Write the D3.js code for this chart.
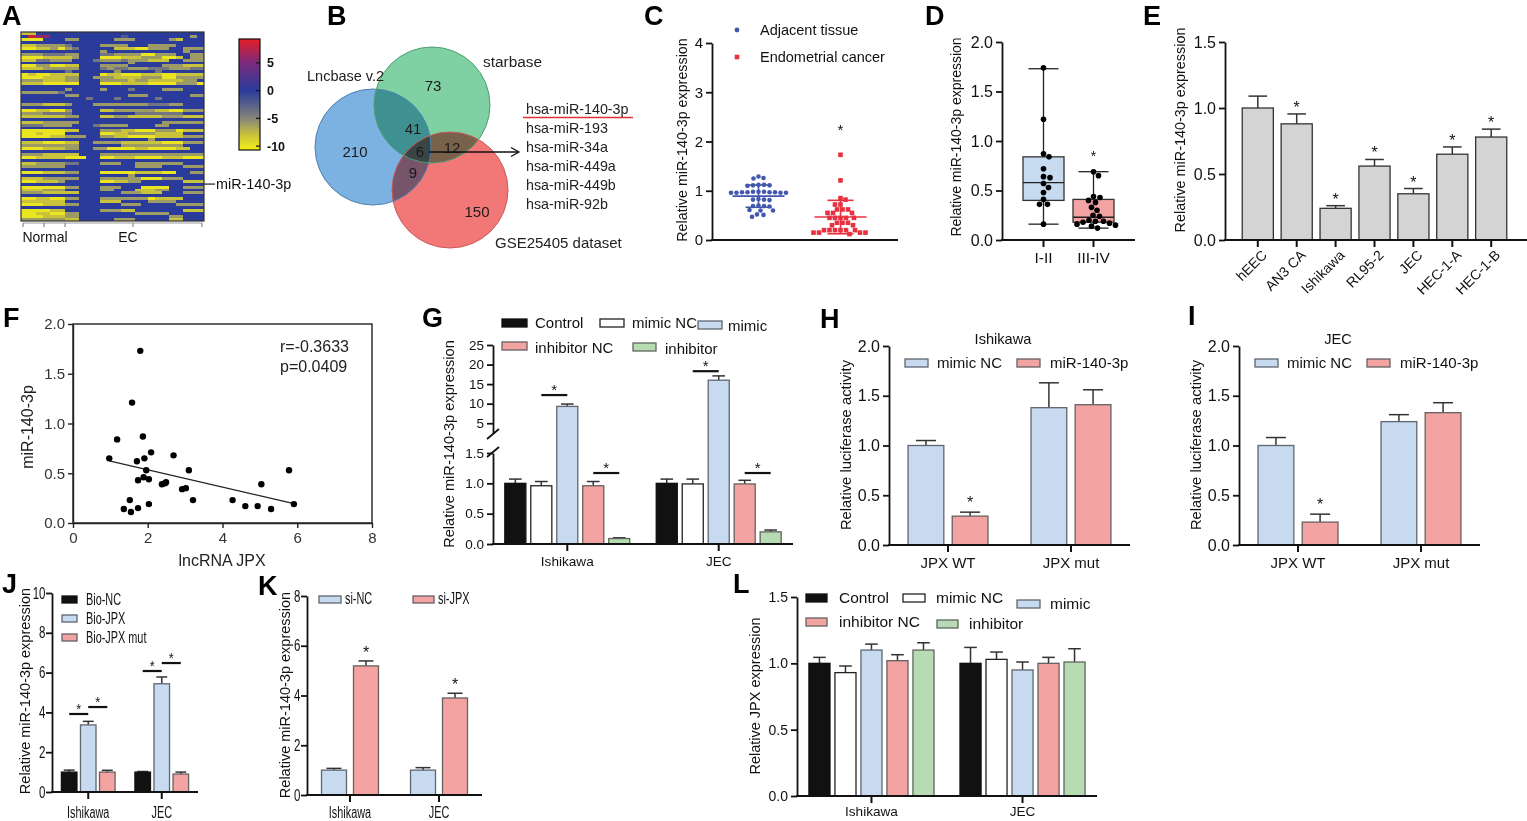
<!DOCTYPE html>
<html>
<head>
<meta charset="utf-8">
<script src="https://cdn.jsdelivr.net/npm/d3@7"></script>
<style>
  body { margin: 0; background: #fff; }
  svg { display: block; font-family: "Liberation Sans", Arial, Helvetica, sans-serif; }
</style>
</head>
<body>
<svg id="fig" width="1527" height="821"></svg>
<script>
//Datos A: heatmap, cada caracter es un nivel 0..9 -> valor -10 + 2*nivel
var heatNormal = [
  "115555","598855","000555","555555","112222","001120","555555","222333","000111","113322",
  "555555","002200","111222","555555","010011","000111","222111","111000","555555","555555",
  "222223","555555","555555","555555","222111","555555","001100","222333","111111","555555",
  "111222","333222","555555","000000","001000","000011","555555","111000","222222","000111",
  "555555","222111","001111","555555","112222","222222","555555","000111","555555","111222",
  "001112","555555","000000","111222","222111","555555","001100","111111","000111","555555",
  "000011","001100","000111","222222"];
var heatEC = [
  "55555555555555555555","55555555455555555525","22555552225555521555","55555555555555555555",
  "35555222255522225555","23555551110022255222","55555255555555555255","22555332222002225522",
  "12555000111222001522","25553222322211155222","55555555525555555555","11555222255555222111",
  "22555323322233322233","35555552555553555555","11555011000111001111","22552221111222002222",
  "22555222212211111225","00555000111100002220","55555555555555555555","25555255535555222555",
  "55555555555555555555","22555555522255555522","55535553555553555555","55555555555555555555",
  "25552222222233322555","55555555555555555555","25555112222221100222","35555555553333333555",
  "22555112211111222111","55555555555555555555","22555555555555222222","25553222255552255555",
  "55555555555555555555","11555222110002220111","55555001122221111555","22255221100001111222",
  "55555555555525555555","11552222111111000222","22555555222222222555","22552200001100001155",
  "55555555555555555555","11555222222222222222","00055001110000111000","55555555555555555555",
  "33555222552222222555","55555555552222555222","55555555555555555555","22555000001111005522",
  "55555555525555555555","22555222222000222555","55555001122555555111","55555555555555555555",
  "22555222555000055222","55555225551112255555","11555555222111555222","55555555555555555555",
  "22555222222201111555","55555111555522225555","22555555222555552222","55555555555555555555",
  "55555222115555555111","22555555552222255555","22555555555555522555","11555552225555511555"];
var heatMarkRow = 51;
var heatMarkLabel = "miR-140-3p";
var heatGroups = ["Normal", "EC"];
var cbTicks = [5, 0, -5, -10];
var cbDomain = [-10.7, 9.3];

//Datos B: Venn
var vennSets = ["Lncbase v.2", "starbase", "GSE25405 dataset"];
var vennRegions = ["L", "S", "G", "LS", "LG", "SG", "LSG"];
var vennCounts = [210, 73, 150, 41, 9, 12, 6];
var vennGenes = ["hsa-miR-140-3p", "hsa-miR-193", "hsa-miR-34a", "hsa-miR-449a", "hsa-miR-449b", "hsa-miR-92b"];

//Datos C
var tissueGroups = ["Adjacent tissue", "Endometrial cancer"];
var adjacentVals = [1.29, 1.25, 1.26, 1.12, 1.11, 1.11, 1.10, 1.12, 0.97, 0.96, 0.98, 0.97, 0.96, 0.98, 0.97, 0.96,
  0.97, 0.98, 0.96, 0.82, 0.81, 0.83, 0.82, 0.69, 0.70, 0.68, 0.69, 0.60, 0.61, 0.60, 0.51, 0.52, 0.47];
var cancerVals = [1.73, 1.21, 0.85, 0.82, 0.72, 0.72, 0.62, 0.62, 0.62, 0.55, 0.55, 0.55, 0.45, 0.45, 0.45, 0.45, 0.45,
  0.35, 0.35, 0.35, 0.30, 0.30, 0.20, 0.20, 0.20, 0.20, 0.20, 0.20, 0.15, 0.15, 0.15, 0.15, 0.12];

//Datos D
var stageGroups = ["I-II", "III-IV"];
var stageI_II = [1.74, 1.22, 0.87, 0.84, 0.72, 0.64, 0.63, 0.57, 0.53, 0.48, 0.41, 0.36, 0.36, 0.16];
var stageIII_IV = [0.69, 0.65, 0.44, 0.43, 0.40, 0.38, 0.33, 0.30, 0.25, 0.24, 0.20, 0.19, 0.19, 0.18, 0.17, 0.16, 0.15, 0.14, 0.12];
var boxMin = [0.16, 0.12];
var boxQ1 = [0.40, 0.18];
var boxMed = [0.58, 0.23];
var boxQ3 = [0.84, 0.41];
var boxMax = [1.73, 0.69];

//Datos E
var cellLines = ["hEEC", "AN3 CA", "Ishikawa", "RL95-2", "JEC", "HEC-1-A", "HEC-1-B"];
var cellMeans = [1.0, 0.88, 0.24, 0.56, 0.35, 0.65, 0.78];
var cellErr = [0.09, 0.075, 0.02, 0.05, 0.04, 0.055, 0.06];
var cellStar = [0, 1, 1, 1, 1, 1, 1];

//Datos F
var jpxExpr = [1.80, 1.58, 1.18, 1.87, 0.97, 1.71, 1.91, 2.09, 2.69, 1.96, 1.89, 1.74, 2.03, 3.10, 2.46, 2.49,
  2.38, 2.92, 3.02, 1.52, 1.36, 1.55, 1.74, 2.03, 3.21, 4.27, 4.61, 4.94, 5.04, 5.30, 5.78, 5.91];
var mirExpr = [1.73, 1.21, 0.84, 0.87, 0.65, 0.62, 0.65, 0.71, 0.68, 0.53, 0.46, 0.43, 0.44, 0.53, 0.40, 0.41,
  0.39, 0.34, 0.35, 0.23, 0.14, 0.11, 0.15, 0.19, 0.23, 0.23, 0.17, 0.17, 0.39, 0.14, 0.53, 0.19];
var corrText = ["r=-0.3633", "p=0.0409"];

//Datos G
var cellPair = ["Ishikawa", "JEC"];
var treatSeries = ["Control", "mimic NC", "mimic", "inhibitor NC", "inhibitor"];
var gMeans = [[1.0, 0.96, 9.3, 0.96, 0.09], [1.0, 0.99, 16.0, 0.99, 0.20]];
var gErr = [[0.07, 0.07, 0.6, 0.07, 0.012], [0.07, 0.08, 1.1, 0.06, 0.03]];
var gSig = [["Ishikawa", "mimic NC", "mimic", 12.2], ["Ishikawa", "inhibitor NC", "inhibitor", 1.17],
            ["JEC", "mimic NC", "mimic", 18.3], ["JEC", "inhibitor NC", "inhibitor", 1.17]];

//Datos H / I
var lucGroups = ["JPX WT", "JPX mut"];
var lucSeries = ["mimic NC", "miR-140-3p"];
var hMeans = [[1.0, 0.29], [1.38, 1.41]];
var hErr = [[0.05, 0.04], [0.25, 0.15]];
var hStar = [[0, 1], [0, 0]];
var iMeans = [[1.0, 0.23], [1.24, 1.33]];
var iErr = [[0.08, 0.08], [0.07, 0.10]];

//Datos J
var bioSeries = ["Bio-NC", "Bio-JPX", "Bio-JPX mut"];
var jMeans = [[1.0, 3.37, 1.0], [1.0, 5.44, 0.9]];
var jErr = [[0.1, 0.18, 0.09], [0.03, 0.34, 0.1]];
var jSig = [["Ishikawa", "Bio-NC", "Bio-JPX", 3.92], ["Ishikawa", "Bio-JPX", "Bio-JPX mut", 4.27],
            ["JEC", "Bio-NC", "Bio-JPX", 6.08], ["JEC", "Bio-JPX", "Bio-JPX mut", 6.48]];

//Datos K
var siSeries = ["si-NC", "si-JPX"];
var kMeans = [[1.0, 5.19], [1.0, 3.9]];
var kErr = [[0.07, 0.2], [0.1, 0.19]];
var kStar = [[0, 1], [0, 1]];

//Datos L
var lMeans = [[1.0, 0.93, 1.10, 1.02, 1.10], [1.0, 1.03, 0.95, 1.0, 1.01]];
var lErr = [[0.045, 0.05, 0.045, 0.045, 0.055], [0.12, 0.055, 0.06, 0.045, 0.1]];

//Estilos
var FONT = "'Liberation Sans', Arial, Helvetica, sans-serif";
var fillsT = ["#111111", "#ffffff", "#c7daf0", "#f4a3a3", "#b7dcb3"];
var strokesT = ["#111111", "#222222", "#5f6670", "#666060", "#5f665f"];
var NARROW = 0.68;

var svg = d3.select("#fig");
svg.append("rect").attr("width", 1527).attr("height", 821).attr("fill", "#fff");

var txt = function(x, y, s, fs, o) {
    o = o || {};
    var tr = "translate(" + x + "," + y + ")";
    if (o.rot) tr += " rotate(" + o.rot + ")";
    if (o.sx) tr += " scale(" + o.sx + ",1)";
    return svg.append("text")
        .attr("transform", tr)
        .attr("font-family", FONT)
        .attr("font-size", fs)
        .attr("font-weight", o.bold ? "bold" : null)
        .attr("text-anchor", o.anchor || "start")
        .attr("fill", o.fill || "#111")
        .text(s);
};

var leftAxis = function(x, y, ticks, fmt, fs, sx, sw) {
    var a = svg.append("g")
        .attr("transform", "translate(" + x + ",0)")
        .call(d3.axisLeft(y).tickValues(ticks).tickFormat(fmt).tickSize(6).tickSizeOuter(0).tickPadding(3));
    a.select(".domain").attr("stroke", "#111").attr("stroke-width", sw || 1.8);
    a.selectAll(".tick line").attr("stroke", "#111").attr("stroke-width", sw || 1.8);
    a.selectAll(".tick text").attr("font-family", FONT).attr("font-size", fs).attr("fill", "#111");
    if (sx) a.selectAll(".tick text").attr("transform", "scale(" + sx + ",1)");
    return a;
};

var baseLine = function(x1, x2, y) {
    svg.append("line").attr("x1", x1 - 0.9).attr("x2", x2).attr("y1", y).attr("y2", y)
        .attr("stroke", "#111").attr("stroke-width", 1.8);
};

var catAxis = function(xs, labels, y, ly, fs, sx) {
    xs.forEach(function(x, i) {
        svg.append("line").attr("x1", x).attr("x2", x).attr("y1", y).attr("y2", y + 7)
            .attr("stroke", "#111").attr("stroke-width", 2);
        if (labels) txt(x, ly, labels[i], fs, {anchor: "middle", sx: sx});
    });
};

var yTitle = function(x, y, s, fs) {
    txt(x, y, s, fs, {rot: -90, anchor: "middle"});
};

var swatch = function(x, y, w, h, fill, stroke, label, tx, ty, fs, sx) {
    svg.append("rect").attr("x", x).attr("y", y).attr("width", w).attr("height", h)
        .attr("fill", fill).attr("stroke", stroke).attr("stroke-width", 1.3);
    txt(tx, ty, label, fs, {sx: sx});
};

//Barras agrupadas con error (solo hacia arriba)
var barPanel = function(cfg) {
    var x0 = d3.scaleBand().domain(cfg.groups).range(cfg.range)
        .paddingInner(cfg.pIn).paddingOuter(cfg.pOut);
    var x1 = d3.scaleBand().domain(cfg.series).range([0, x0.bandwidth()]).paddingInner(cfg.sIn);
    var y = cfg.y;
    var cells = [];
    cfg.groups.forEach(function(g, gi) {
        cfg.series.forEach(function(s, si) {
            cells.push({g: g, s: s, si: si, v: cfg.means[gi][si], e: cfg.errs[gi][si],
                        star: cfg.stars ? cfg.stars[gi][si] : 0});
        });
    });
    var cx = function(d) { return x0(d.g) + x1(d.s) + x1.bandwidth() / 2; };
    var cw = x1.bandwidth() * (cfg.cap || 0.28);
    var gb = svg.append("g");
    gb.selectAll("line.err").data(cells).enter().append("line")
        .attr("x1", cx).attr("x2", cx)
        .attr("y1", function(d) { return y(d.v); })
        .attr("y2", function(d) { return y(d.v + d.e); })
        .attr("stroke", "#333").attr("stroke-width", 1.5);
    gb.selectAll("line.cap").data(cells).enter().append("line")
        .attr("x1", function(d) { return cx(d) - cw; })
        .attr("x2", function(d) { return cx(d) + cw; })
        .attr("y1", function(d) { return y(d.v + d.e); })
        .attr("y2", function(d) { return y(d.v + d.e); })
        .attr("stroke", "#333").attr("stroke-width", 1.5);
    gb.selectAll("rect").data(cells).enter().append("rect")
        .attr("x", function(d) { return x0(d.g) + x1(d.s); })
        .attr("y", function(d) { return y(d.v); })
        .attr("width", x1.bandwidth())
        .attr("height", function(d) { return y(0) - y(d.v); })
        .attr("fill", function(d) { return cfg.fills[d.si]; })
        .attr("stroke", function(d) { return cfg.strokes[d.si]; })
        .attr("stroke-width", 1.3);
    cells.filter(function(d) { return d.star; }).forEach(function(d) {
        txt(cx(d), y(d.v + d.e) - (cfg.starGap || 1), "*", 16, {anchor: "middle"});
    });
    return {
        x0: x0,
        cx: function(g, s) { return x0(g) + x1(s) + x1.bandwidth() / 2; },
        gx: function(g) { return x0(g) + x0.bandwidth() / 2; }
    };
};

var sigLines = function(p, sig, y, sx) {
    sig.forEach(function(s) {
        var a = p.cx(s[0], s[1]), b = p.cx(s[0], s[2]), yy = y(s[3]);
        svg.append("line").attr("x1", a).attr("x2", b).attr("y1", yy).attr("y2", yy)
            .attr("stroke", "#111").attr("stroke-width", 2.2);
        txt((a + b) / 2, yy, "*", 15, {anchor: "middle", sx: sx});
    });
};

//Swarm simple para puntos
var swarm = function(vals, y, minD) {
    var order = vals.map(function(v, i) { return i; }).sort(function(a, b) { return vals[b] - vals[a]; });
    var placed = [], offs = [];
    order.forEach(function(i) {
        var py = y(vals[i]);
        for (var k = 0; k < 400; k++) {
            var dx = (k % 2 ? 1 : -1) * Math.ceil(k / 2) * 0.5;
            var ok = placed.every(function(p) {
                return (p[0] - dx) * (p[0] - dx) + (p[1] - py) * (p[1] - py) >= minD * minD;
            });
            if (ok) { placed.push([dx, py]); offs[i] = dx; break; }
        }
    });
    return offs;
};

// ---------- Panel letters ----------
var letters = [["A", 2, 25], ["B", 327, 25], ["C", 644, 25], ["D", 925, 25], ["E", 1143, 25],
               ["F", 3, 327], ["G", 422, 327], ["H", 820, 328], ["I", 1188, 325],
               ["J", 2, 593], ["K", 258, 595], ["L", 733, 593]];
letters.forEach(function(l) { txt(l[1], l[2], l[0], 27, {bold: true, fill: "#000"}); });

// ---------- A heatmap ----------
var heatY = d3.scaleBand().domain(d3.range(heatNormal.length)).range([32, 221]);
var heatXn = d3.scaleBand().domain(d3.range(heatNormal[0].length)).range([21, 65]);
var heatXe = d3.scaleBand().domain(d3.range(heatEC[0].length)).range([65, 204]);
var heatColor = d3.scaleLinear().domain([-10.7, -8, -5, 0, 5, 9.3])
    .range(["#f6ef18", "#c9c33c", "#85857a", "#2a3b9b", "#7a2b7c", "#e81e26"]);
var drawHeat = function(rows, xs) {
    var cells = [];
    rows.forEach(function(r, i) {
        r.split("").forEach(function(c, j) { cells.push({i: i, j: j, v: -10 + 2 * (+c)}); });
    });
    svg.append("g").attr("shape-rendering", "crispEdges")
        .selectAll("rect").data(cells).enter().append("rect")
        .attr("x", function(d) { return xs(d.j); })
        .attr("y", function(d) { return heatY(d.i); })
        .attr("width", xs.bandwidth() + 0.4)
        .attr("height", heatY.bandwidth() + 0.4)
        .attr("fill", function(d) { return heatColor(d.v); });
};
drawHeat(heatNormal, heatXn);
drawHeat(heatEC, heatXe);
svg.append("rect").attr("x", 21).attr("y", 32).attr("width", 183).attr("height", 189)
    .attr("fill", "none").attr("stroke", "#333").attr("stroke-width", 1.2);
// bracket under heatmap
svg.append("line").attr("x1", 23).attr("x2", 202).attr("y1", 223).attr("y2", 223)
    .attr("stroke", "#999").attr("stroke-width", 1.2);
[23, 44, 65, 133, 202].forEach(function(x) {
    svg.append("line").attr("x1", x).attr("x2", x).attr("y1", 223).attr("y2", 227)
        .attr("stroke", "#888").attr("stroke-width", 1.2);
});
txt(45, 242, heatGroups[0], 14, {anchor: "middle"});
txt(128, 242, heatGroups[1], 14, {anchor: "middle"});
var markY = heatY(heatMarkRow) + heatY.bandwidth() / 2;
svg.append("line").attr("x1", 204).attr("x2", 215).attr("y1", markY).attr("y2", markY)
    .attr("stroke", "#222").attr("stroke-width", 1.2);
txt(216, markY + 5, heatMarkLabel, 14.4);
// colorbar
var cbY = d3.scaleLinear().domain(cbDomain).range([150, 39]);
var grad = svg.append("defs").append("linearGradient").attr("id", "cbgrad")
    .attr("x1", 0).attr("y1", 1).attr("x2", 0).attr("y2", 0);
heatColor.domain().forEach(function(v, i) {
    grad.append("stop").attr("offset", (v - cbDomain[0]) / (cbDomain[1] - cbDomain[0]))
        .attr("stop-color", heatColor.range()[i]);
});
svg.append("rect").attr("x", 239).attr("y", 39).attr("width", 21).attr("height", 111)
    .attr("fill", "url(#cbgrad)").attr("stroke", "#111").attr("stroke-width", 1.2);
cbTicks.forEach(function(t) {
    svg.append("line").attr("x1", 256).attr("x2", 260).attr("y1", cbY(t)).attr("y2", cbY(t))
        .attr("stroke", "#111").attr("stroke-width", 1.2);
    txt(267, cbY(t) + 4.5, String(t), 12.5, {bold: true});
});

// ---------- B venn ----------
var vennLayout = [[373, 147], [432, 105], [450, 190]];
var vennFill = ["#7cb2e2", "#7fd0a2", "#f27878"];
var vennStroke = ["#4d80ae", "#4f9c72", "#c95a5a"];
var vg = svg.append("g").style("isolation", "isolate");
vennLayout.forEach(function(c, i) {
    vg.append("circle").attr("cx", c[0]).attr("cy", c[1]).attr("r", 58)
        .attr("fill", vennFill[i]).style("mix-blend-mode", "multiply");
});
vennLayout.forEach(function(c, i) {
    svg.append("circle").attr("cx", c[0]).attr("cy", c[1]).attr("r", 58)
        .attr("fill", "none").attr("stroke", vennStroke[i]).attr("stroke-width", 1);
});
var vennLabelPos = {L: [355, 157], S: [433, 91], G: [477, 217], LS: [413, 134], LG: [413, 178], SG: [452, 153], LSG: [420, 157]};
vennRegions.forEach(function(r, i) {
    txt(vennLabelPos[r][0], vennLabelPos[r][1], String(vennCounts[i]), 15, {anchor: "middle", fill: "#1a1a1a"});
});
txt(307, 81, vennSets[0], 14.5, {fill: "#222"});
txt(483, 67, vennSets[1], 15.4, {fill: "#222"});
txt(495, 248, vennSets[2], 15, {fill: "#222"});
svg.append("line").attr("x1", 429).attr("x2", 518).attr("y1", 152).attr("y2", 152)
    .attr("stroke", "#111").attr("stroke-width", 1.3);
svg.append("path").attr("d", "M511,147.5L519,152L511,156.5").attr("fill", "none")
    .attr("stroke", "#111").attr("stroke-width", 1.3);
vennGenes.forEach(function(gn, i) { txt(526, 114 + i * 19, gn, 14.3, {fill: "#222"}); });
svg.append("line").attr("x1", 523).attr("x2", 633).attr("y1", 117.5).attr("y2", 117.5)
    .attr("stroke", "#e03030").attr("stroke-width", 1.6);

// ---------- C scatter dot plot ----------
var yC = d3.scaleLinear().domain([0, 4]).range([240, 43]);
var xC = d3.scalePoint().domain(tissueGroups).range([712, 887]).padding(0.567);
var cCols = ["#4257ad", "#e8313f"];
[adjacentVals, cancerVals].forEach(function(vals, gi) {
    var cx = xC(tissueGroups[gi]);
    var offs = swarm(vals, yC, 5.2);
    var m = d3.mean(vals), sd = d3.deviation(vals);
    if (gi === 0) {
        svg.append("g").selectAll("circle").data(vals).enter().append("circle")
            .attr("cx", function(d, i) { return cx + offs[i]; })
            .attr("cy", function(d) { return yC(d); })
            .attr("r", 2.3).attr("fill", cCols[0]);
    } else {
        svg.append("g").selectAll("rect").data(vals).enter().append("rect")
            .attr("x", function(d, i) { return cx + offs[i] - 2.3; })
            .attr("y", function(d) { return yC(d) - 2.3; })
            .attr("width", 4.6).attr("height", 4.6).attr("fill", cCols[1]);
    }
    var ln = function(x1, x2, y1, y2) {
        svg.append("line").attr("x1", x1).attr("x2", x2).attr("y1", y1).attr("y2", y2)
            .attr("stroke", cCols[gi]).attr("stroke-width", 1.6);
    };
    ln(cx - 26, cx + 26, yC(m), yC(m));
    ln(cx - 13, cx + 13, yC(m + sd), yC(m + sd));
    ln(cx - 13, cx + 13, yC(Math.max(m - sd, 0.02)), yC(Math.max(m - sd, 0.02)));
    ln(cx, cx, yC(m + sd), yC(Math.max(m - sd, 0.02)));
    if (gi === 1) txt(cx, yC(d3.max(vals)) - 20, "*", 15, {anchor: "middle"});
});
leftAxis(712, yC, [0, 1, 2, 3, 4], d3.format("d"), 15);
baseLine(712, 898, 240);
yTitle(687, 140, "Relative miR-140-3p expression", 14.3);
svg.append("circle").attr("cx", 737).attr("cy", 30).attr("r", 2.4).attr("fill", cCols[0]);
svg.append("rect").attr("x", 734.7).attr("y", 54.7).attr("width", 4.6).attr("height", 4.6).attr("fill", cCols[1]);
txt(760, 35, tissueGroups[0], 14.5);
txt(760, 62, tissueGroups[1], 14.5);

// ---------- D box plot ----------
var yD = d3.scaleLinear().domain([0, 2]).range([240, 42]);
var xD = d3.scaleBand().domain(stageGroups).range([1002, 1135]).paddingInner(0.18).paddingOuter(0.42);
var boxFill = ["#c6daf0", "#f2a3a3"];
stageGroups.forEach(function(g, i) {
    var x = xD(g), w = xD.bandwidth(), c = x + w / 2;
    var ln = function(x1, x2, y1, y2) {
        svg.append("line").attr("x1", x1).attr("x2", x2).attr("y1", y1).attr("y2", y2)
            .attr("stroke", "#222").attr("stroke-width", 1.3);
    };
    ln(c, c, yD(boxMax[i]), yD(boxQ3[i]));
    ln(c, c, yD(boxQ1[i]), yD(boxMin[i]));
    ln(c - 15, c + 15, yD(boxMax[i]), yD(boxMax[i]));
    ln(c - 15, c + 15, yD(boxMin[i]), yD(boxMin[i]));
    svg.append("rect").attr("x", x).attr("y", yD(boxQ3[i])).attr("width", w)
        .attr("height", yD(boxQ1[i]) - yD(boxQ3[i]))
        .attr("fill", boxFill[i]).attr("stroke", "#333").attr("stroke-width", 1.3);
    ln(x, x + w, yD(boxMed[i]), yD(boxMed[i]));
    var vals = i === 0 ? stageI_II : stageIII_IV;
    var offs = swarm(vals, yD, 6.2);
    svg.append("g").selectAll("circle").data(vals).enter().append("circle")
        .attr("cx", function(d, k) { return c + offs[k]; })
        .attr("cy", function(d) { return yD(d); })
        .attr("r", 2.8).attr("fill", "#000");
});
txt(xD("III-IV") + xD.bandwidth() / 2, yD(boxMax[1]) - 11, "*", 14, {anchor: "middle"});
leftAxis(1002, yD, [0, 0.5, 1, 1.5, 2], d3.format(".1f"), 16);
baseLine(1002, 1135, 240);
catAxis(stageGroups.map(function(g) { return xD(g) + xD.bandwidth() / 2; }), stageGroups, 240, 263, 15.5);
yTitle(961, 137, "Relative miR-140-3p expression", 14);

// ---------- E bars ----------
var yE = d3.scaleLinear().domain([0, 1.5]).range([240, 42]);
var pE = barPanel({
    groups: cellLines, series: ["v"], range: [1225, 1524], pIn: 0.2, pOut: 0.443, sIn: 0,
    means: cellMeans.map(function(v) { return [v]; }), errs: cellErr.map(function(v) { return [v]; }),
    stars: cellStar.map(function(v) { return [v]; }), y: yE, fills: ["#d4d4d4"], strokes: ["#333"], cap: 0.3
});
leftAxis(1225, yE, [0, 0.5, 1, 1.5], d3.format(".1f"), 16);
baseLine(1225, 1527, 240);
catAxis(cellLines.map(function(g) { return pE.gx(g); }), null, 240);
cellLines.forEach(function(g) {
    txt(pE.gx(g) + 10, 256, g, 14, {rot: -45, anchor: "end"});
});
yTitle(1185, 130, "Relative miR-140-3p expression", 14.4);

// ---------- F correlation ----------
var xF = d3.scaleLinear().domain([0, 8]).range([73, 372]);
var yF = d3.scaleLinear().domain([0, 2]).range([523, 324]);
svg.append("rect").attr("x", xF(0)).attr("y", yF(2)).attr("width", xF(8) - xF(0)).attr("height", yF(0) - yF(2))
    .attr("fill", "none").attr("stroke", "#222").attr("stroke-width", 1.4);
var axF = svg.append("g").attr("transform", "translate(0," + yF(0) + ")")
    .call(d3.axisBottom(xF).tickValues([0, 2, 4, 6, 8]).tickSize(5).tickSizeOuter(0).tickPadding(4));
var ayF = svg.append("g").attr("transform", "translate(" + xF(0) + ",0)")
    .call(d3.axisLeft(yF).tickValues([0, 0.5, 1, 1.5, 2]).tickFormat(d3.format(".1f")).tickSize(5).tickSizeOuter(0).tickPadding(3));
[axF, ayF].forEach(function(a) {
    a.select(".domain").attr("stroke", "#222").attr("stroke-width", 1.4);
    a.selectAll(".tick line").attr("stroke", "#222").attr("stroke-width", 1.4);
    a.selectAll(".tick text").attr("font-family", FONT).attr("font-size", 15).attr("fill", "#333");
});
var mx = d3.mean(jpxExpr), my = d3.mean(mirExpr);
var sxy = d3.sum(jpxExpr, function(x, i) { return (x - mx) * (mirExpr[i] - my); });
var sxx = d3.sum(jpxExpr, function(x) { return (x - mx) * (x - mx); });
var slope = sxy / sxx, icpt = my - slope * mx;
var fx = d3.extent(jpxExpr);
svg.append("line").attr("x1", xF(fx[0])).attr("x2", xF(fx[1]))
    .attr("y1", yF(icpt + slope * fx[0])).attr("y2", yF(icpt + slope * fx[1]))
    .attr("stroke", "#222").attr("stroke-width", 1.2);
svg.append("g").selectAll("circle").data(jpxExpr).enter().append("circle")
    .attr("cx", function(d) { return xF(d); })
    .attr("cy", function(d, i) { return yF(mirExpr[i]); })
    .attr("r", 3.2).attr("fill", "#000");
txt(280, 352, corrText[0], 16, {fill: "#222"});
txt(280, 372, corrText[1], 16, {fill: "#222"});
txt(222, 566, "lncRNA JPX", 16, {anchor: "middle", fill: "#222"});
txt(33, 427, "miR-140-3p", 16, {rot: -90, anchor: "middle", fill: "#222"});

// ---------- G broken axis ----------
var yG = d3.scaleLinear().domain([0, 1.5, 2.5, 25]).range([544, 453, 433, 345]);
var yGlow = d3.scaleLinear().domain([0, 1.5]).range([544, 453]);
var yGup = d3.scaleLinear().domain([2.5, 25]).range([433, 345]);
var pG = barPanel({
    groups: cellPair, series: treatSeries, range: [493, 793], pIn: 0.175, pOut: 0.078, sIn: 0.19,
    means: gMeans, errs: gErr, y: yG, fills: fillsT, strokes: strokesT, cap: 0.3
});
sigLines(pG, gSig, yG);
leftAxis(493, yGup, [5, 10, 15, 20, 25], d3.format("d"), 13.5);
leftAxis(493, yGlow, [0, 0.5, 1, 1.5], d3.format(".1f"), 13.5);
svg.append("path").attr("d", "M487,439L499,429M487,457L499,447").attr("stroke", "#111").attr("stroke-width", 1.8);
baseLine(493, 793, 544);
catAxis(cellPair.map(function(g) { return pG.gx(g); }), cellPair, 544, 566, 13.6);
yTitle(454, 444, "Relative miR-140-3p expression", 14.6);
swatch(502, 319, 25, 8, fillsT[0], strokesT[0], treatSeries[0], 535, 328, 15);
swatch(600, 319, 24, 8, fillsT[1], strokesT[1], treatSeries[1], 632, 328, 15);
swatch(698, 321, 24, 8, fillsT[2], strokesT[2], treatSeries[2], 728, 331, 15);
swatch(502, 342, 25, 8, fillsT[3], strokesT[3], treatSeries[3], 535, 353, 15);
swatch(633, 343, 23, 8, fillsT[4], strokesT[4], treatSeries[4], 665, 354, 15);

// ---------- H / I luciferase ----------
var lucPanel = function(ax, means, errs, title, tx) {
    var y = d3.scaleLinear().domain([0, 2]).range([545, 346]);
    var p = barPanel({
        groups: lucGroups, series: lucSeries, range: [ax, ax + 241], pIn: 0.35, pOut: 0.155, sIn: 0.19,
        means: means, errs: errs, stars: hStar, y: y, fills: [fillsT[2], fillsT[3]],
        strokes: [strokesT[2], strokesT[3]], cap: 0.28, starGap: 4
    });
    leftAxis(ax, y, [0, 0.5, 1, 1.5, 2], d3.format(".1f"), 16);
    baseLine(ax, ax + 241, 545);
    catAxis(lucGroups.map(function(g) { return p.gx(g); }), lucGroups, 545, 568, 15);
    txt(tx, 344, title, 14.6, {anchor: "middle"});
    yTitle(ax - 38, 445, "Relative luciferase activity", 14.8);
    swatch(ax + 16, 359, 23, 8, fillsT[2], strokesT[2], lucSeries[0], ax + 48, 368, 15);
    swatch(ax + 128, 359, 23, 8, fillsT[3], strokesT[3], lucSeries[1], ax + 161, 368, 15);
};
lucPanel(889, hMeans, hErr, "Ishikawa", 1003);
lucPanel(1239, iMeans, iErr, "JEC", 1338);

// ---------- J ----------
var yJ = d3.scaleLinear().domain([0, 10]).range([792, 593]);
var pJ = barPanel({
    groups: cellPair, series: bioSeries, range: [52, 198], pIn: 0.27, pOut: 0.128, sIn: 0.184,
    means: jMeans, errs: jErr, y: yJ, fills: [fillsT[0], fillsT[2], fillsT[3]],
    strokes: [strokesT[0], strokesT[2], strokesT[3]], cap: 0.35
});
sigLines(pJ, jSig, yJ, 0.85);
leftAxis(52, yJ, [0, 2, 4, 6, 8, 10], d3.format("d"), 16, 0.72);
baseLine(52, 198, 792);
catAxis(cellPair.map(function(g) { return pJ.gx(g); }), cellPair, 792, 818, 16, NARROW);
yTitle(30, 691, "Relative miR-140-3p expression", 14.5);
swatch(62, 596, 15, 7, fillsT[0], strokesT[0], bioSeries[0], 86, 605, 16, NARROW);
swatch(62, 615, 15, 7, fillsT[2], strokesT[2], bioSeries[1], 86, 624, 16, NARROW);
swatch(62, 634, 15, 7, fillsT[3], strokesT[3], bioSeries[2], 86, 643, 16, NARROW);

// ---------- K ----------
var yK = d3.scaleLinear().domain([0, 8]).range([795, 596]);
var pK = barPanel({
    groups: cellPair, series: siSeries, range: [307, 482], pIn: 0.36, pOut: 0.163, sIn: 0.219,
    means: kMeans, errs: kErr, stars: kStar, y: yK, fills: [fillsT[2], fillsT[3]],
    strokes: [strokesT[2], strokesT[3]], cap: 0.3, starGap: 3
});
leftAxis(307, yK, [0, 2, 4, 6, 8], d3.format("d"), 16, 0.72);
baseLine(307, 482, 795);
catAxis(cellPair.map(function(g) { return pK.gx(g); }), cellPair, 795, 818, 16, NARROW);
yTitle(290, 695, "Relative miR-140-3p expression", 14.5);
swatch(319, 596, 22, 7, fillsT[2], strokesT[2], siSeries[0], 345, 604, 16, NARROW);
swatch(413, 596, 21, 7, fillsT[3], strokesT[3], siSeries[1], 438, 604, 16, NARROW);

// ---------- L ----------
var yL = d3.scaleLinear().domain([0, 1.5]).range([796, 597]);
var pL = barPanel({
    groups: cellPair, series: treatSeries, range: [797, 1097], pIn: 0.172, pOut: 0.079, sIn: 0.19,
    means: lMeans, errs: lErr, y: yL, fills: fillsT, strokes: strokesT, cap: 0.3
});
leftAxis(797, yL, [0, 0.5, 1, 1.5], d3.format(".1f"), 14);
baseLine(797, 1097, 796);
catAxis(cellPair.map(function(g) { return pL.gx(g); }), cellPair, 796, 816, 13.6);
yTitle(760, 696, "Relative JPX expression", 14.5);
swatch(806, 594, 21, 8, fillsT[0], strokesT[0], treatSeries[0], 839, 603, 15.5);
swatch(903, 594, 22, 8, fillsT[1], strokesT[1], treatSeries[1], 936, 603, 15.5);
swatch(1017, 600, 23, 8, fillsT[2], strokesT[2], treatSeries[2], 1050, 609, 15.5);
swatch(806, 618, 21, 8, fillsT[3], strokesT[3], treatSeries[3], 839, 627, 15.5);
swatch(937, 620, 21, 8, fillsT[4], strokesT[4], treatSeries[4], 969, 629, 15.5);
</script>
</body>
</html>
